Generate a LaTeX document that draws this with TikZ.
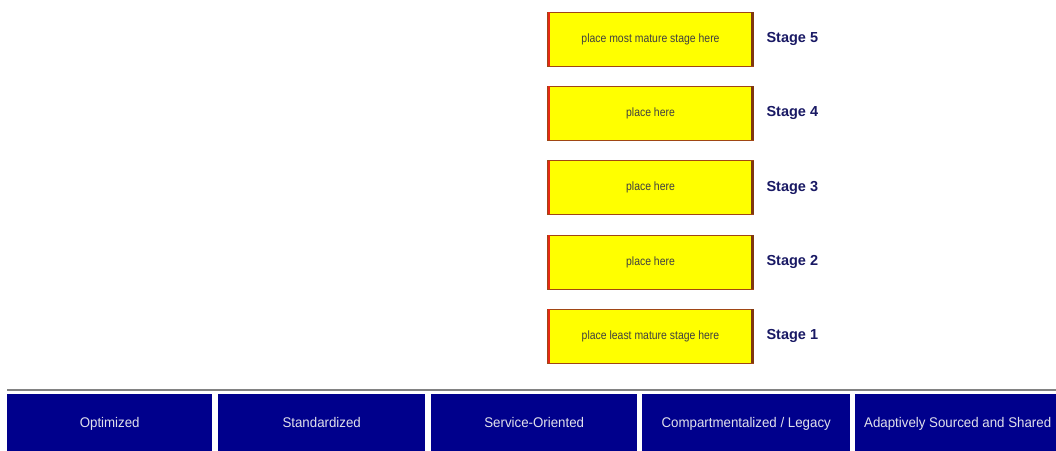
\documentclass[tikz,border=0pt]{standalone}
\usepackage{fontspec}
\setmainfont{Liberation Sans}
\definecolor{boxfill}{RGB}{255,255,0}
\definecolor{boxedge}{RGB}{160,70,20}
\definecolor{boxred}{RGB}{230,40,20}
\definecolor{stagecol}{RGB}{25,25,100}
\definecolor{barblue}{RGB}{0,0,140}
\definecolor{bartext}{RGB}{225,225,235}
\definecolor{linegray}{RGB}{130,130,130}
\tikzset{
  stagebox/.style={draw=boxedge, line width=1pt, fill=boxfill, minimum width=206pt, minimum height=54pt, inner sep=0pt, text height=8.5pt, text depth=2.5pt, font=\fontsize{12}{14}\selectfont\addfontfeatures{FakeStretch=0.87}, text=black!75},
  stagelabel/.style={anchor=west, font=\fontsize{14.5}{17}\selectfont\bfseries, text=stagecol},
  barbox/.style={fill=barblue, minimum height=60pt, inner sep=0pt, text height=10pt, text depth=3pt, text=bartext, font=\fontsize{14}{16}\selectfont\addfontfeatures{FakeStretch=0.95}, anchor=north west},
}
\begin{document}
\begin{tikzpicture}[x=1pt,y=-1pt]
\useasboundingbox[fill=white] (0,0) rectangle (1056,450);
% stage boxes
\foreach \n/\y/\t in {5/39/place most mature stage here, 4/113/place here, 3/187.5/place here, 2/262/place here, 1/336/place least mature stage here}{
  \node[stagebox] (b\n) at (650.5,\y) {\t};
  \draw[boxred, line width=2.5pt] ([xshift=1.8pt,yshift=-0.6pt]b\n.north west) -- ([xshift=1.8pt,yshift=0.6pt]b\n.south west);
  \draw[boxedge!80!black, line width=2.5pt] ([xshift=-1.5pt,yshift=-0.6pt]b\n.north east) -- ([xshift=-1.5pt,yshift=0.6pt]b\n.south east);
  \node[stagelabel] (s\n) at ([xshift=9pt]b\n.east) {Stage \n};
}
% gray line
\coordinate (l0) at (7,390);
\coordinate (l1) at (1056,390);
\draw[linegray, line width=2pt] (l0) -- (l1);
% bars
\node[barbox, minimum width=205pt] (c1) at (7,394) {Optimized};
\node[barbox, minimum width=207pt] (c2) at (218,394) {Standardized};
\node[barbox, minimum width=206pt] (c3) at (431,394) {Service-Oriented};
\node[barbox, minimum width=208pt] (c4) at (642,394) {Compartmentalized / Legacy};
\node[barbox, minimum width=205pt] (c5) at (855,394) {Adaptively Sourced and Shared};
\end{tikzpicture}
\end{document}
